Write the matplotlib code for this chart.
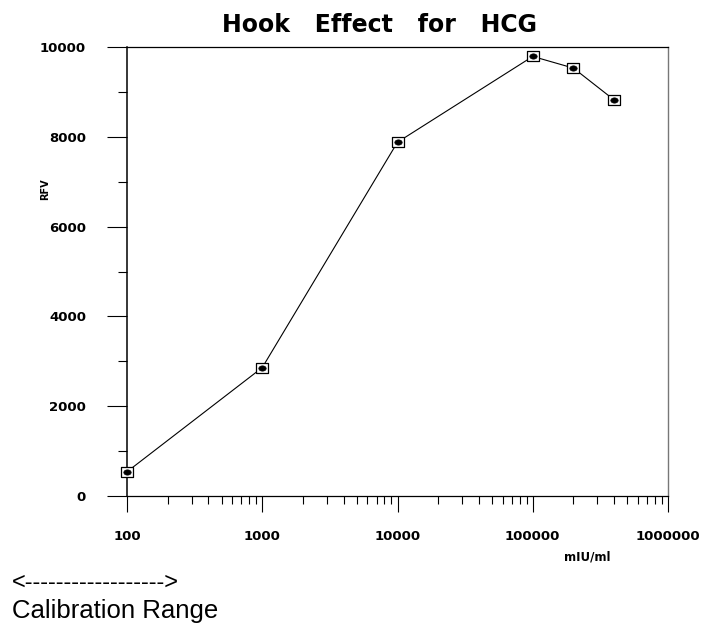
import numpy as np
import matplotlib
matplotlib.use("Agg")
import matplotlib.pyplot as plt
from matplotlib.markers import MarkerStyle
from matplotlib.transforms import Affine2D
from matplotlib.ticker import FixedLocator, LogLocator, NullFormatter, MultipleLocator

# data
conc = [100, 1000, 10000, 100000, 200000, 400000]   # mIU/ml
rfv = [540, 2860, 7880, 9790, 9530, 8820]
xticks = [100, 1000, 10000, 100000, 1000000]
yticks = [0, 2000, 4000, 6000, 8000, 10000]

plt.rcParams['font.family'] = ['DejaVu Sans']

fig = plt.figure(figsize=(7.04, 6.23), dpi=100)
ax = fig.add_axes([127 / 704, 127 / 623, 541 / 704, 449 / 623])

ax.set_xscale('log')
ax.set_xlim(100, 1000000)
ax.set_ylim(0, 10000)

box = MarkerStyle([(-1.2, -1), (1.2, -1), (1.2, 1), (-1.2, 1), (-1.2, -1)])
dot = MarkerStyle('o', transform=Affine2D().scale(1.4, 1.0))

ax.plot(conc, rfv, color='black', lw=0.8, zorder=3, clip_on=False)
ax.plot(conc, rfv, ls='none', marker=box, ms=9, mfc='white', mec='black',
        mew=0.9, zorder=4, clip_on=False)
ax.plot(conc, rfv, ls='none', marker=dot, ms=3.8, mfc='black', mec='black',
        mew=0.5, zorder=5, clip_on=False)

# ticks
ax.xaxis.set_major_locator(FixedLocator(xticks))
ax.xaxis.set_minor_locator(LogLocator(base=10, subs=np.arange(2, 10)))
ax.xaxis.set_minor_formatter(NullFormatter())
ax.set_xticklabels([str(v) for v in xticks])
ax.yaxis.set_major_locator(FixedLocator(yticks))
ax.yaxis.set_minor_locator(MultipleLocator(1000))
ax.set_yticklabels([str(v) for v in yticks])

ax.tick_params(axis='y', which='major', direction='out', length=14.5, width=0.8,
               pad=15, labelsize=9.5)
ax.tick_params(axis='y', which='minor', direction='out', length=6.5, width=0.8)
ax.tick_params(axis='x', which='major', direction='out', length=11.5, width=0.8,
               pad=13, labelsize=9.5)
ax.tick_params(axis='x', which='minor', direction='out', length=5.8, width=0.8)
for lab in ax.get_xticklabels() + ax.get_yticklabels():
    lab.set_fontweight('bold')

for s in ['left', 'bottom', 'top']:
    ax.spines[s].set_linewidth(0.9)
ax.spines['left'].set_linewidth(1.1)
ax.spines['right'].set_color('#777777')
ax.spines['right'].set_linewidth(1.0)

fig.text(379 / 704, 1 - 32 / 623, 'Hook   Effect   for   HCG', ha='center',
         va='baseline', fontsize=17, fontweight='bold')
fig.text(45 / 704, 1 - 189 / 623, 'RFV', rotation=90, ha='center', va='center',
         fontsize=7, fontweight='bold')
fig.text(587 / 704, 1 - 557 / 623, 'mIU/ml', ha='center', va='center',
         fontsize=8.5, fontweight='bold')
fig.text(12 / 704, 1 - 583 / 623, '<------------------>', ha='left', va='center',
         fontsize=17, family=['Liberation Sans'])
fig.text(12 / 704, 1 - 618 / 623, 'Calibration Range', ha='left', va='baseline',
         fontsize=18.5, family=['Liberation Sans'])

fig.savefig('out.png', dpi=100)
